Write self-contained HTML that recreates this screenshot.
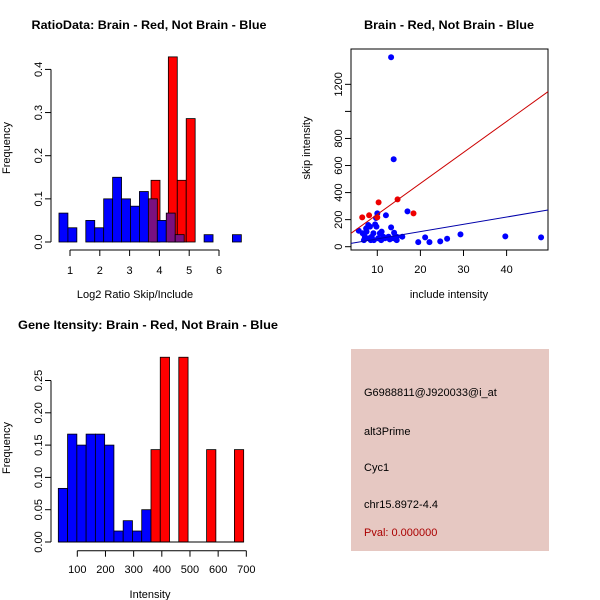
<!DOCTYPE html>
<html><head><meta charset="utf-8"><style>
body{margin:0;background:#fff;}
svg{display:block;font-family:"Liberation Sans",sans-serif;}
</style></head><body>
<svg id="c" width="600" height="600" viewBox="0 0 600 600">
<rect width="600" height="600" fill="#fff"/>
</svg>
<script>
// Panel 1 data: log2 ratio histogram
const ratioBlueStarts=[0.63,0.93,1.53,1.83,2.13,2.43,2.73,3.03,3.33,3.63,3.93,4.23,4.53,5.5,6.45];
const ratioBlueFreq=[0.067,0.033,0.05,0.033,0.1,0.15,0.1,0.083,0.117,0.1,0.05,0.067,0.017,0.017,0.017];
const ratioRedStarts=[3.72,4.3,4.6,4.9];
const ratioRedFreq=[0.143,0.429,0.143,0.286];
const ratioXTicks=[1,2,3,4,5,6];
const ratioYTicks=[0,0.1,0.2,0.3,0.4];
// Panel 2 data: scatter
const blueX=[13.2,13.8,10,12,17,13.2,13.9,15.8,19.5,21.1,22.1,24.6,26.2,29.3,39.7,48,5.7,6.6,7.1,7.5,7.9,8.3,6.9,8.7,9.1,9.5,9.8,10.2,10.6,11,11.4,11.8,12.6,13.7,14.5,9.2,8.1,8.5,10.9,9.7,7.4,14.5,12.9];
const blueY=[1400,646,246,232,261,143,103,74,34,69,34,39,59,91,76,69,118,99,74,111,160,148,49,74,99,165,148,62,99,111,74,62,74,62,49,49,62,49,49,212,135,74,54];
const redX=[6.5,8.1,10,10.3,14.7,18.4];
const redY=[217,232,217,328,350,246];
const redFit=[9.7,22.9];   // intercept, slope
const blueFit=[4,5.38];
const scXTicks=[10,20,30,40];
const scYTicks=[0,200,400,600,800,1000,1200];
const scYLabels=["0","200","400","600","800","","1200"];
// Panel 3 data: intensity histogram
const intStart=32.6, intWidth=32.9;
const intBlueFreq=[0.083,0.167,0.15,0.167,0.167,0.15,0.017,0.033,0.017,0.05];
const intRedBins=[10,11,13,16,19];
const intRedFreq=[0.143,0.286,0.286,0.143,0.143];
const intXTicks=[100,200,300,400,500,600,700];
const intYTicks=[0,0.05,0.1,0.15,0.2,0.25];
const intYLabels=["0.00","0.05","0.10","0.15","0.20","0.25"];

const svg=document.getElementById('c');
const NS='http://www.w3.org/2000/svg';
function el(tag,attrs,parent){const e=document.createElementNS(NS,tag);for(const k in attrs)e.setAttribute(k,attrs[k]);(parent||svg).appendChild(e);return e;}
function txt(s,x,y,opts,parent){const t=el('text',Object.assign({x:x,y:y,'font-size':11,'text-anchor':'middle',fill:'#000'},opts||{}),parent);t.textContent=s;return t;}

// ---------- Panel 1 ----------
(function(){
const g=el('g',{});


const xs=v=>70+(v-1)*29.8, ys=v=>242-v*431.5;
const bw=0.3;
ratioRedStarts.forEach((s,i)=>{const r=el('rect',{x:xs(s),y:ys(ratioRedFreq[i]),width:xs(s+bw)-xs(s),height:ys(0)-ys(ratioRedFreq[i]),fill:'#ff0000',stroke:'#000','stroke-width':0.8},g);
});
ratioBlueStarts.forEach((s,i)=>{
 let f=ratioBlueFreq[i];let col='#0000ff';
 ratioRedStarts.forEach(rs=>{if(Math.abs(rs-s)<0.15)col='#7a1080';});
 const r=el('rect',{x:xs(s),y:ys(f),width:xs(s+bw)-xs(s),height:ys(0)-ys(f),fill:col,stroke:'#000','stroke-width':0.8},g);
 });
el('line',{x1:51,y1:ys(0),x2:51,y2:ys(0.4),stroke:'#000'},g);
ratioYTicks.forEach(v=>{el('line',{x1:45,y1:ys(v),x2:51,y2:ys(v),stroke:'#000'},g);
 txt(v.toFixed(1),38,ys(v)+4,{transform:`rotate(-90 38 ${ys(v)})`,'font-size':11},g);});
el('line',{x1:xs(1),y1:250,x2:xs(6),y2:250,stroke:'#000'},g);
ratioXTicks.forEach(v=>{el('line',{x1:xs(v),y1:250,x2:xs(v),y2:256,stroke:'#000'},g);txt(String(v),xs(v),274,{},g);});
const t=txt('RatioData: Brain - Red, Not Brain - Blue',149,29,{'font-weight':'bold','font-size':12,textLength:235,lengthAdjust:'spacingAndGlyphs'},g);
const xl=txt('Log2 Ratio Skip/Include',135,298,{},g);
const yl=txt('Frequency',10,148,{transform:'rotate(-90 10 148)'},g);
})();

// ---------- Panel 2 ----------
(function(){
const g=el('g',{});


const xs=v=>377.3+(v-10)*4.31, ys=v=>246.7-v*0.1353;
el('rect',{x:351,y:49,width:197,height:201,fill:'none',stroke:'#000'},g);
blueX.forEach((x,i)=>{const c=el('circle',{cx:xs(x),cy:ys(blueY[i]),r:3,fill:'#0000ff'},g);});
redX.forEach((x,i)=>{const c=el('circle',{cx:xs(x),cy:ys(redY[i]),r:3,fill:'#ee0000'},g);});
const x0=3.9,x1=49.6;
const rl=el('line',{x1:xs(x0),y1:ys(redFit[0]+redFit[1]*x0),x2:xs(x1),y2:ys(redFit[0]+redFit[1]*x1),stroke:'#cc0000','stroke-width':1},g);

const bl=el('line',{x1:xs(x0),y1:ys(blueFit[0]+blueFit[1]*x0),x2:xs(x1),y2:ys(blueFit[0]+blueFit[1]*x1),stroke:'#0000aa','stroke-width':1},g);

scXTicks.forEach(v=>{el('line',{x1:xs(v),y1:250,x2:xs(v),y2:256,stroke:'#000'},g);txt(String(v),xs(v),273,{},g);});
scYTicks.forEach((v,i)=>{el('line',{x1:345,y1:ys(v),x2:351,y2:ys(v),stroke:'#000'},g);
 if(scYLabels[i])txt(scYLabels[i],338,ys(v)+4,{transform:`rotate(-90 338 ${ys(v)})`},g);});
const t=txt('Brain - Red, Not Brain - Blue',449,29,{'font-weight':'bold','font-size':12,textLength:170,lengthAdjust:'spacingAndGlyphs'},g);
const xl=txt('include intensity',449,298,{},g);
const yl=txt('skip intensity',310,148,{transform:'rotate(-90 310 148)'},g);
})();

// ---------- Panel 3 ----------
(function(){
const g=el('g',{});


const xs=v=>77.3+(v-100)*0.2817, ys=v=>542-v*646;
intBlueFreq.forEach((f,i)=>{const s=intStart+i*intWidth;const r=el('rect',{x:xs(s),y:ys(f),width:xs(s+intWidth)-xs(s),height:ys(0)-ys(f),fill:'#0000ff',stroke:'#000','stroke-width':0.8},g);
 });
intRedBins.forEach((b,i)=>{const s=intStart+b*intWidth;const f=intRedFreq[i];const r=el('rect',{x:xs(s),y:ys(f),width:xs(s+intWidth)-xs(s),height:ys(0)-ys(f),fill:'#ff0000',stroke:'#000','stroke-width':0.8},g);
 });
el('line',{x1:xs(intStart),y1:ys(0),x2:xs(intStart+20*intWidth),y2:ys(0),stroke:'#000'},g);
el('line',{x1:51,y1:ys(0),x2:51,y2:ys(0.25),stroke:'#000'},g);
intYTicks.forEach((v,i)=>{el('line',{x1:45,y1:ys(v),x2:51,y2:ys(v),stroke:'#000'},g);
 txt(intYLabels[i],38,ys(v)+4,{transform:`rotate(-90 38 ${ys(v)})`},g);});
el('line',{x1:xs(100),y1:550.7,x2:xs(700),y2:550.7,stroke:'#000'},g);
intXTicks.forEach(v=>{el('line',{x1:xs(v),y1:550.7,x2:xs(v),y2:556.7,stroke:'#000'},g);txt(String(v),xs(v),573,{},g);});
const t=txt('Gene Itensity: Brain - Red, Not Brain - Blue',148,329,{'font-weight':'bold','font-size':12,textLength:260,lengthAdjust:'spacingAndGlyphs'},g);
const xl=txt('Intensity',150,598,{},g);
const yl=txt('Frequency',10,448,{transform:'rotate(-90 10 448)'},g);
})();

// ---------- Panel 4 ----------
(function(){
const g=el('g',{});


el('rect',{x:351,y:349,width:198,height:202,fill:'#e6c8c2'},g);
const lines=[['G6988811@J920033@i_at',396,'#000','probe-id'],['alt3Prime',435,'#000','event-type'],['Cyc1',471,'#000','gene-name'],['chr15.8972-4.4',508,'#000','location'],['Pval: 0.000000',536,'#aa0000','p-value']];
lines.forEach(l=>{const t=txt(l[0],364,l[1],{'text-anchor':'start',fill:l[2]},g);});
})();
</script>
</body></html>
